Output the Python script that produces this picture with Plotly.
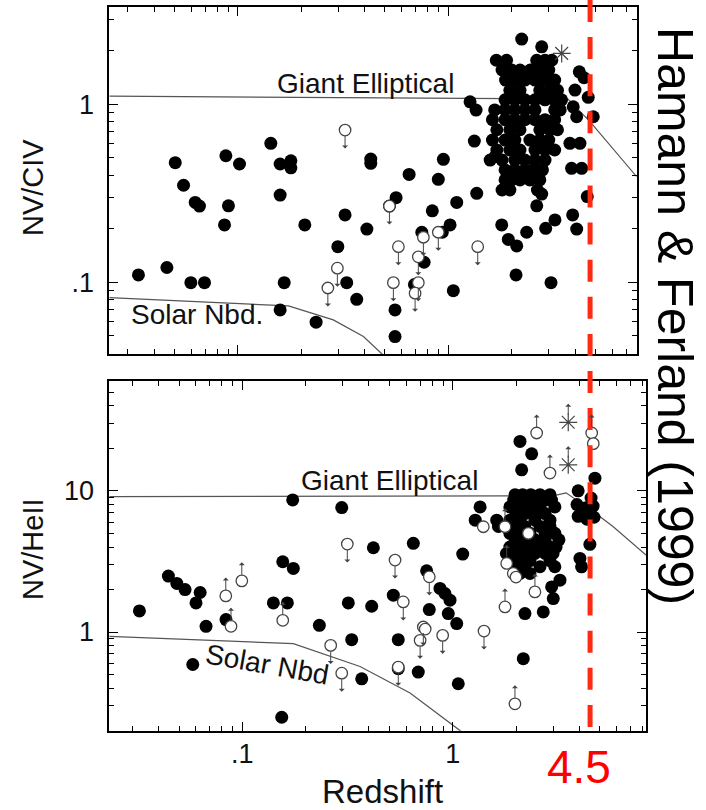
import math
import plotly.graph_objects as go

# ---------------- data: upper panel (NV/CIV) ----------------
civ_x = [0.0337, 0.046, 0.0598, 0.0694, 0.0504, 0.0552, 0.0627, 0.0657, 0.0877, 0.1018,
         0.0902, 0.0864, 0.1434, 0.1588, 0.1786, 0.1786, 0.1588, 0.166, 0.1588, 0.2353,
         0.208, 0.2985, 0.323, 0.329, 0.367, 0.41, 0.428, 0.428, 0.5645, 0.525,
         0.558, 0.558, 0.651, 0.947, 0.896, 0.839, 1.096, 1.019, 0.748, 0.936,
         0.767, 0.69, 1.056, 1.364, 1.268, 1.354, 1.329, 1.666, 1.793, 1.927,
         2.113, 2.097, 2.356, 2.63, 2.777, 2.901, 3.21, 3.074, 3.896, 4.071,
         4.57, 2.231, 2.777, 4.19, 4.41, 3.996, 4.62, 4.88, 3.92, 4.07,
         3.78, 4.22, 3.85, 4.30]
civ_y = [0.110, 0.121, 0.0995, 0.0995, 0.470, 0.351, 0.281, 0.268, 0.514, 0.462,
         0.269, 0.210, 0.604, 0.462, 0.482, 0.440, 0.309, 0.0995, 0.0699, 0.0596,
         0.210, 0.1585, 0.239, 0.0995, 0.0802, 0.199, 0.493, 0.466, 0.299, 0.268,
         0.0699, 0.0495, 0.404, 0.491, 0.379, 0.252, 0.281, 0.210, 0.191, 0.191,
         0.1295, 0.097, 0.0897, 0.316, 1.034, 0.929, 0.622, 0.508, 0.210, 0.174,
         0.160, 0.110, 0.191, 0.269, 0.313, 0.201, 0.224, 0.0995, 0.239, 0.199,
         0.303, 2.327, 2.107, 1.524, 1.411, 1.203, 1.095, 0.852, 0.969, 0.852,
         0.604, 0.604, 0.437, 0.437]

# dense group of high-redshift quasars: (NV/CIV, [redshifts])
civ_cluster = [
    (1.77, [1.69, 1.89, 2.63, 2.88, 3.10]),
    (1.56, [1.80, 2.00, 2.19, 2.45, 2.72, 3.00]),
    (1.37, [1.87, 2.07, 2.31, 2.58, 2.88, 3.20]),
    (1.20, [1.96, 2.19, 2.72, 3.04, 3.30]),
    (1.06, [1.86, 2.07, 2.31, 2.58, 2.88, 3.20, 3.45]),
    (0.93, [1.66, 1.86, 2.07, 2.31, 2.58, 3.20, 3.40]),
    (0.82, [1.62, 1.86, 2.07, 2.31, 2.58, 2.88, 3.20]),
    (0.72, [1.70, 1.96, 2.19, 2.72, 3.04, 3.30]),
    (0.63, [1.62, 1.86, 2.07, 2.44, 2.72, 3.00]),
    (0.554, [1.70, 1.96, 2.19, 2.58, 2.88, 3.20]),
    (0.486, [1.58, 1.80, 2.07, 2.31, 2.58, 2.88]),
    (0.428, [1.86, 2.07, 2.31, 2.52, 2.80]),
    (0.376, [1.86, 2.00, 2.19, 2.44, 2.72]),
    (0.33, [1.80, 1.96, 2.65]),
]

# upper limits (open circles, arrow down)
civ_lim_x = [0.323, 0.297, 0.2676, 0.548, 0.579, 0.72, 0.761, 0.896, 0.72, 0.695, 1.379, 0.525]
civ_lim_y = [0.717, 0.1199, 0.0928, 0.0995, 0.1585, 0.139, 0.179, 0.191, 0.0995, 0.0868, 0.1585, 0.268]

civ_star_x = [3.455]
civ_star_y = [1.934]

# ---------------- data: lower panel (NV/HeII) ----------------
heii_x = [0.0324, 0.0445, 0.0488, 0.0534, 0.063, 0.0602, 0.0672, 0.0581, 0.0836, 0.1404,
          0.1637, 0.1556, 0.1747, 0.1735, 0.2968, 0.2323, 0.319, 0.331, 0.3694, 0.412,
          0.4196, 0.1539, 0.522, 0.551, 0.551, 0.65, 1.116, 0.752, 0.87, 0.919,
          0.971, 0.953, 1.045, 0.774, 0.686, 1.063, 2.166, 2.206, 2.696, 2.089,
          2.374, 2.128, 4.746, 3.236, 2.954, 3.007, 4.027, 4.10, 4.49,
          3.95, 4.55, 3.90, 4.30, 4.65, 3.95, 4.35, 4.70]
heii_y = [1.41, 2.49, 2.21, 2.0, 1.905, 1.607, 1.098, 0.589, 1.225, 1.607,
          1.607, 3.145, 2.822, 8.63, 7.61, 1.116, 1.607, 0.883, 0.466, 1.523,
          3.954, 0.249, 1.823, 0.883, 0.55, 4.25, 3.566, 2.714, 2.035, 1.875,
          1.68, 1.351, 1.147, 1.443, 0.52, 0.43, 0.647, 1.351, 1.387, 22.4,
          18.3, 14.1, 12.3, 2.33, 2.088, 1.727, 3.32, 2.897, 4.18,
          10.0, 8.9, 8.0, 7.6, 7.8, 6.6, 6.3, 6.5]

heii_cluster = [
    (9.4, [1.98, 2.15, 2.35, 2.60, 2.90]),
    (8.6, [1.95, 2.09, 2.33, 2.60, 2.75, 2.95]),
    (7.7, [1.35, 1.87, 2.09, 2.33, 2.60, 3.06]),
    (6.9, [2.00, 2.20, 2.46, 2.75]),
    (6.2, [1.28, 1.62, 1.87, 2.09, 2.46, 2.90]),
    (5.6, [1.65, 1.98, 2.20, 2.60, 2.90]),
    (5.0, [1.87, 2.09, 2.33, 2.75, 3.06]),
    (4.5, [1.98, 2.20, 2.46, 2.75, 3.20]),
    (4.0, [1.87, 2.09, 2.33, 2.60, 2.90, 3.10]),
    (3.6, [1.80, 1.98, 2.20, 2.46, 2.75, 3.00]),
    (3.2, [1.87, 2.09, 2.33, 2.90]),
    (2.9, [1.98, 2.20, 2.60, 3.06]),
    (2.6, [2.09, 2.33]),
]

heii_upper_x = [0.263, 0.2968, 0.3155, 0.532, 0.582, 0.551, 0.70, 0.725, 0.774, 0.896, 1.409]
heii_upper_y = [0.804, 0.511, 4.2, 3.233, 1.634, 0.564, 0.873, 1.085, 2.46, 0.947, 1.016]
heii_lower_x = [0.0834, 0.0994, 0.0883, 0.1556, 2.507, 2.90, 4.58, 1.773, 2.46, 1.977, 1.806, 1.773]
heii_lower_y = [1.803, 2.304, 1.098, 1.211, 25.7, 13.36, 25.7, 1.506, 1.924, 0.31, 3.06, 5.57]
heii_open_x = [4.66, 1.398, 1.941, 2.0, 2.29, 0.74]
heii_open_y = [21.6, 5.57, 2.6, 2.45, 5.0, 1.05]
heii_star_x = [3.543, 3.543]
heii_star_y = [30.6, 15.3]

# ---------------- model curves ----------------
civ_ge_x = [0.0245, 1.0, 3.7, 4.71, 7.85]
civ_ge_y = [1.113, 1.075, 1.071, 0.80, 0.392]
civ_sn_x = [0.0245, 0.174, 0.284, 0.395, 0.484, 0.73]
civ_sn_y = [0.0819, 0.0736, 0.0614, 0.0495, 0.0395, 0.0257]
heii_ge_x = [0.0233, 3.0, 3.46, 4.66, 5.8, 8.3]
heii_ge_y = [9.11, 9.21, 9.68, 7.13, 5.57, 3.51]
heii_sn_x = [0.0233, 0.1747, 0.3626, 0.627, 1.095, 1.3]
heii_sn_y = [0.932, 0.827, 0.570, 0.370, 0.198, 0.15]

z_cut = 4.5

# ---------------- figure ----------------
W, H = 706, 810
INK = "#111111"
FONT = "Liberation Sans, Arial, sans-serif"


def flatten(rows):
    xs, ys = [], []
    for yv, row in rows:
        for xv in row:
            xs.append(xv)
            ys.append(yv)
    return xs, ys


fig = go.Figure()

curve = dict(color="#555555", width=1.2)
fig.add_trace(go.Scatter(x=civ_ge_x, y=civ_ge_y, mode="lines", line=curve, xaxis="x", yaxis="y"))
fig.add_trace(go.Scatter(x=civ_sn_x, y=civ_sn_y, mode="lines", line=curve, xaxis="x", yaxis="y"))
fig.add_trace(go.Scatter(x=heii_ge_x, y=heii_ge_y, mode="lines", line=curve, xaxis="x2", yaxis="y2"))
fig.add_trace(go.Scatter(x=heii_sn_x, y=heii_sn_y, mode="lines", line=curve, xaxis="x2", yaxis="y2"))

filled = dict(symbol="circle", size=13, color="black", line=dict(width=0))
opened = dict(symbol="circle", size=11.5, color="white", line=dict(width=1.3, color="#444444"))
star = dict(symbol="asterisk-open", size=15, color="#444444", line=dict(width=1.2, color="#444444"))

cx, cy = flatten(civ_cluster)
fig.add_trace(go.Scatter(x=civ_x + cx, y=civ_y + cy, mode="markers", marker=filled,
                         xaxis="x", yaxis="y"))
fig.add_trace(go.Scatter(x=civ_lim_x, y=civ_lim_y, mode="markers", marker=opened, xaxis="x", yaxis="y"))
fig.add_trace(go.Scatter(x=civ_star_x, y=civ_star_y, mode="markers", marker=star, xaxis="x", yaxis="y"))

hx, hy = flatten(heii_cluster)
fig.add_trace(go.Scatter(x=heii_x + hx, y=heii_y + hy, mode="markers", marker=filled,
                         xaxis="x2", yaxis="y2"))
fig.add_trace(go.Scatter(x=heii_upper_x + heii_lower_x + heii_open_x,
                         y=heii_upper_y + heii_lower_y + heii_open_y,
                         mode="markers", marker=opened, xaxis="x2", yaxis="y2"))
fig.add_trace(go.Scatter(x=heii_star_x, y=heii_star_y, mode="markers", marker=star, xaxis="x2", yaxis="y2"))

annotations = []


def limit_arrows(xs, ys, xref, yref, down, gap):
    for xv, yv in zip(xs, ys):
        annotations.append(dict(
            x=math.log10(xv), y=math.log10(yv), xref=xref, yref=yref, text="",
            showarrow=True, ax=0, ay=(20 if down else -20), axref="pixel", ayref="pixel",
            arrowside="start", arrowhead=2, arrowsize=0.7, arrowwidth=1,
            arrowcolor="#444444", standoff=gap,
        ))


limit_arrows(civ_lim_x, civ_lim_y, "x", "y", True, 6)
limit_arrows(heii_upper_x, heii_upper_y, "x2", "y2", True, 6)
limit_arrows(heii_lower_x, heii_lower_y, "x2", "y2", False, 6)
limit_arrows(heii_star_x, heii_star_y, "x2", "y2", False, 7.5)


def px(xp, yp):
    return xp / W, 1 - yp / H


def label(text, xp, yp, size, color=INK, angle=0):
    x, y = px(xp, yp)
    annotations.append(dict(x=x, y=y, xref="paper", yref="paper", text=text, showarrow=False,
                            textangle=angle, xanchor="center", yanchor="middle",
                            font=dict(family=FONT, size=size, color=color)))


label("Giant Elliptical", 365, 83, 28)
label("Solar Nbd.", 197, 315, 28)
label("Giant Elliptical", 389, 480, 28)
label("Solar Nbd", 267, 664, 28, angle=10)
label("NV/CIV", 33, 188, 29, angle=-90)
label("NV/HeII", 33, 549, 29, angle=-90)
label("Redshift", 382, 791, 33)
label("4.5", 579, 767, 46, color="#ff0000")
label("Hamann &amp; Ferland (1999)", 675, 316, 50, color="black", angle=90)

# red dashed marker at z = 4.5 spanning both panels
shapes = [dict(type="line", xref="x2", yref="paper", x0=z_cut, x1=z_cut,
               y0=1.0, y1=1 - 727 / H,
               line=dict(color="#ff2a12", width=5, dash="22px,15.1px"))]

TICKFONT = dict(family=FONT, size=27, color=INK)


def xaxis(dom, rng, labels, anchor):
    return dict(
        type="log", domain=dom, range=[math.log10(rng[0]), math.log10(rng[1])],
        anchor=anchor, showgrid=False, zeroline=False,
        showline=True, linecolor="black", linewidth=1.6, mirror="allticks",
        ticks="inside", ticklen=9, tickwidth=1.4, tickcolor="black",
        tickvals=[0.1, 1], ticktext=[".1", "1"], showticklabels=labels,
        tickfont=TICKFONT, ticklabelstandoff=-2,
        minor=dict(ticks="inside", ticklen=5, tickwidth=1.4, tickcolor="black",
                   tickvals=[0.03, 0.04, 0.05, 0.06, 0.07, 0.08, 0.09,
                             0.2, 0.3, 0.4, 0.5, 0.6, 0.7, 0.8, 0.9,
                             2, 3, 4, 5, 6, 7, 8]),
    )


def yaxis(dom, rng, vals, texts, minor_vals, anchor):
    return dict(
        type="log", domain=dom, range=[math.log10(rng[0]), math.log10(rng[1])],
        anchor=anchor, showgrid=False, zeroline=False,
        showline=True, linecolor="black", linewidth=1.6, mirror="allticks",
        ticks="inside", ticklen=9, tickwidth=1.4, tickcolor="black",
        tickvals=vals, ticktext=texts,
        tickfont=TICKFONT, ticklabelstandoff=8,
        minor=dict(ticks="inside", ticklen=5, tickwidth=1.4, tickcolor="black",
                   tickvals=minor_vals),
    )


fig.update_layout(
    width=W, height=H, autosize=False,
    margin=dict(l=0, r=0, t=0, b=0),
    paper_bgcolor="white", plot_bgcolor="white",
    showlegend=False,
    xaxis=xaxis([109.3 / W, 636.7 / W], [0.0245, 7.85], False, "y"),
    yaxis=yaxis([1 - 354 / H, 1 - 6.7 / H], [0.0395, 3.54], [0.1, 1], [".1", "1"],
                [0.05, 0.06, 0.07, 0.08, 0.09, 0.2, 0.3, 0.4, 0.5, 0.6, 0.7, 0.8, 0.9, 2, 3], "x"),
    xaxis2=xaxis([109.3 / W, 646 / W], [0.0233, 8.3], True, "y2"),
    yaxis2=yaxis([1 - 730.7 / H, 1 - 381 / H], [0.2, 60], [1, 10], ["1", "10"],
                 [0.3, 0.4, 0.5, 0.6, 0.7, 0.8, 0.9, 2, 3, 4, 5, 6, 7, 8, 9, 20, 30, 40, 50], "x2"),
    annotations=annotations,
    shapes=shapes,
)

fig.write_html("out.html")
